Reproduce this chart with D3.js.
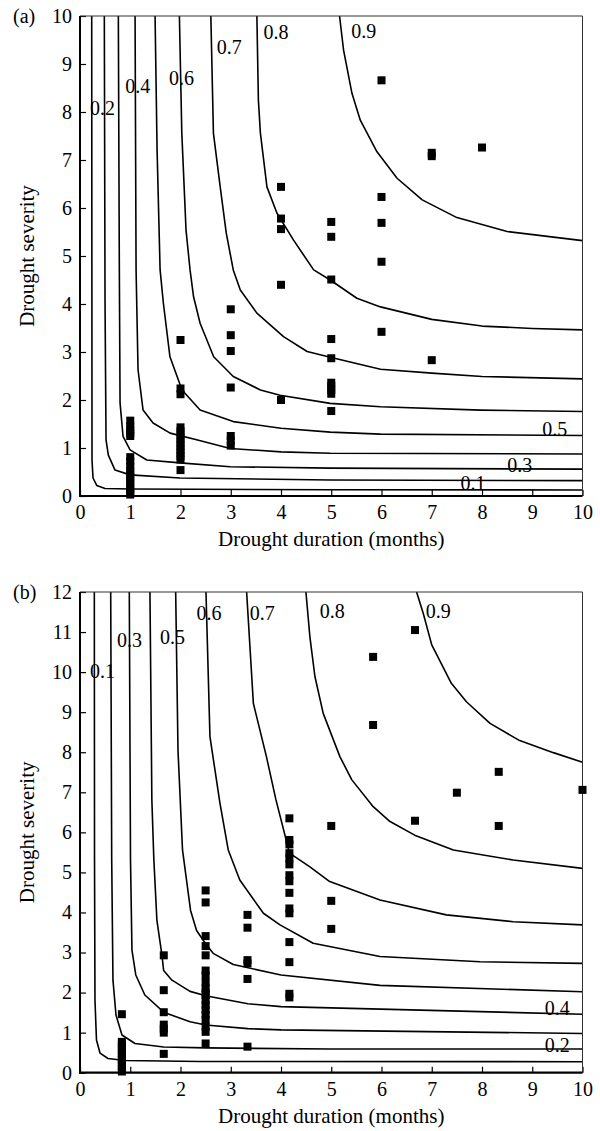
<!DOCTYPE html>
<html>
<head>
<meta charset="utf-8">
<script src="https://cdn.jsdelivr.net/npm/d3@7/dist/d3.min.js"></script>
<style>
body { margin: 0; background: #fff; }
text { font-family: "Liberation Serif", "Times New Roman", serif; fill: #000; }
</style>
</head>
<body>
<div id="chart"></div>
<script>
// ---- data ----
var durationTicks = [0, 1, 2, 3, 4, 5, 6, 7, 8, 9, 10];
var severityTicksA = [0, 1, 2, 3, 4, 5, 6, 7, 8, 9, 10];
var severityTicksB = [0, 1, 2, 3, 4, 5, 6, 7, 8, 9, 10, 11, 12];

var levels = ["0.1", "0.2", "0.3", "0.4", "0.5", "0.6", "0.7", "0.8", "0.9"];

// panel (a) contour lines, [duration, severity]
var contoursA = [
    [[0.233, 10], [0.239, 0.75], [0.259, 0.375], [0.333, 0.22], [0.498, 0.156], [0.996, 0.146], [4.98, 0.131], [10, 0.125]],
    [[0.484, 10], [0.498, 4.08], [0.518, 1.17], [0.564, 0.85], [0.697, 0.54], [0.996, 0.44], [1.99, 0.375], [4.98, 0.333], [10, 0.32]],
    [[0.763, 10], [0.783, 4.71], [0.797, 1.94], [0.857, 1.24], [0.996, 0.96], [1.329, 0.75], [1.992, 0.69], [2.99, 0.61], [4.98, 0.58], [10, 0.56]],
    [[1.096, 10], [1.116, 4.71], [1.155, 2.63], [1.255, 1.79], [1.454, 1.52], [1.793, 1.31], [2.32, 1.17], [2.99, 0.99], [4.0, 0.92], [4.98, 0.89], [10, 0.875]],
    [[1.494, 10], [1.534, 7.21], [1.594, 4.71], [1.66, 4.01], [1.79, 2.90], [2.03, 2.21], [2.39, 1.79], [3.05, 1.55], [4.0, 1.41], [4.98, 1.33], [5.98, 1.29], [10, 1.26]],
    [[1.978, 10], [2.026, 7.56], [2.11, 5.54], [2.19, 4.71], [2.26, 4.15], [2.39, 3.60], [2.66, 2.90], [3.05, 2.49], [3.59, 2.21], [3.98, 2.10], [4.98, 1.93], [5.98, 1.86], [7.97, 1.79], [10, 1.76]],
    [[2.604, 10], [2.655, 7.56], [2.79, 6.44], [2.91, 5.48], [3.05, 4.71], [3.19, 4.29], [3.52, 3.81], [4.05, 3.32], [4.52, 3.01], [4.98, 2.89], [5.98, 2.64], [7.0, 2.56], [8.0, 2.49], [10, 2.44]],
    [[3.52, 10], [3.55, 8.25], [3.59, 7.56], [3.72, 6.44], [3.92, 5.89], [4.25, 5.33], [4.65, 4.71], [4.98, 4.5], [5.51, 4.12], [5.98, 3.94], [7.0, 3.68], [8.0, 3.54], [9.0, 3.49], [10, 3.46]],
    [[5.165, 10], [5.245, 9.29], [5.412, 8.39], [5.578, 7.83], [5.91, 7.17], [6.31, 6.62], [6.81, 6.17], [7.50, 5.80], [8.50, 5.51], [10, 5.32]]
];

// panel (b) contour lines
var contoursB = [
    [[0.285, 12], [0.289, 5.31], [0.298, 1.81], [0.328, 0.815], [0.398, 0.49], [0.557, 0.354], [0.895, 0.305], [2.39, 0.28], [10, 0.275]],
    [[0.611, 12], [0.631, 5.31], [0.656, 2.31], [0.716, 1.44], [0.835, 0.94], [1.094, 0.73], [1.665, 0.64], [2.5, 0.62], [4.97, 0.59], [10, 0.59]],
    [[0.981, 12], [1.005, 5.31], [1.034, 3.06], [1.11, 2.44], [1.29, 1.94], [1.665, 1.51], [2.19, 1.27], [2.5, 1.19], [3.34, 1.10], [4.0, 1.07], [10, 0.98]],
    [[1.392, 12], [1.43, 6.81], [1.47, 5.31], [1.53, 3.81], [1.63, 2.94], [1.665, 2.55], [1.83, 2.31], [2.19, 2.03], [2.5, 1.92], [3.34, 1.72], [4.0, 1.65], [10, 1.46]],
    [[1.904, 12], [1.95, 8.05], [2.04, 5.56], [2.12, 4.81], [2.2, 4.05], [2.32, 3.55], [2.5, 3.22], [2.65, 2.98], [3.05, 2.70], [4.0, 2.44], [5.97, 2.18], [10, 2.02]],
    [[2.507, 12], [2.586, 8.39], [2.785, 6.73], [2.95, 5.56], [3.18, 4.81], [3.65, 3.98], [3.98, 3.69], [4.64, 3.23], [5.97, 2.90], [7.96, 2.77], [10, 2.73]],
    [[3.316, 12], [3.45, 9.22], [3.71, 7.89], [3.90, 6.81], [4.17, 5.48], [4.575, 5.14], [4.97, 4.77], [5.97, 4.31], [7.29, 3.94], [8.62, 3.77], [10, 3.69]],
    [[4.496, 12], [4.575, 10.88], [4.675, 9.89], [4.84, 8.97], [5.172, 7.89], [5.41, 7.31], [5.835, 6.64], [6.17, 6.27], [6.66, 5.93], [7.43, 5.56], [8.62, 5.31], [10, 5.10]],
    [[6.698, 12], [6.83, 11.47], [7.0, 10.68], [7.39, 9.72], [7.69, 9.26], [8.16, 8.72], [8.75, 8.29], [9.42, 7.99], [10, 7.75]]
];

// observed droughts, [duration, severity]
var observedA = [
    [1, 1.57], [1, 1.45], [1, 1.38], [1, 1.30], [1, 1.25],
    [1, 0.81], [1, 0.72], [1, 0.62], [1, 0.52], [1, 0.45], [1, 0.38], [1, 0.30], [1, 0.22], [1, 0.15], [1, 0.08], [1, 0.03],
    [2, 3.25], [2, 2.24], [2, 2.12], [2, 1.43], [2, 1.35], [2, 1.28], [2, 1.2], [2, 1.12], [2, 1.05], [2, 0.97], [2, 0.9], [2, 0.83], [2, 0.76], [2, 0.54],
    [3, 3.89], [3, 3.35], [3, 3.02], [3, 2.26], [3, 1.25], [3, 1.15], [3, 1.05],
    [4, 6.44], [4, 5.78], [4, 5.56], [4, 4.40], [4, 2.0],
    [5, 5.71], [5, 5.40], [5, 4.51], [5, 3.27], [5, 2.87], [5, 2.36], [5, 2.29], [5, 2.21], [5, 2.13], [5, 1.77],
    [6, 8.66], [6, 6.23], [6, 5.69], [6, 4.88], [6, 3.42],
    [7, 7.15], [7, 7.08], [7, 2.83],
    [8, 7.26]
];

var observedB = [
    [0.833, 1.46], [0.833, 0.77], [0.833, 0.7], [0.833, 0.62], [0.833, 0.55], [0.833, 0.47], [0.833, 0.4], [0.833, 0.32], [0.833, 0.25], [0.833, 0.18], [0.833, 0.1], [0.833, 0.03],
    [1.667, 2.93], [1.667, 2.06], [1.667, 1.51], [1.667, 1.2], [1.667, 1.1], [1.667, 1.0], [1.667, 0.47],
    [2.5, 4.55], [2.5, 4.25], [2.5, 3.41], [2.5, 3.16], [2.5, 2.93], [2.5, 2.55], [2.5, 2.43], [2.5, 2.25], [2.5, 2.11], [2.5, 2.0], [2.5, 1.94], [2.5, 1.8], [2.5, 1.69], [2.5, 1.57], [2.5, 1.45], [2.5, 1.32], [2.5, 1.15], [2.5, 1.02], [2.5, 0.73],
    [3.333, 3.94], [3.333, 3.62], [3.333, 2.81], [3.333, 2.73], [3.333, 2.34], [3.333, 0.65],
    [4.167, 6.35], [4.167, 5.81], [4.167, 5.70], [4.167, 5.48], [4.167, 5.35], [4.167, 5.2], [4.167, 4.93], [4.167, 4.78], [4.167, 4.49], [4.167, 4.1], [4.167, 3.98], [4.167, 3.26], [4.167, 2.76], [4.167, 1.97], [4.167, 1.88],
    [5, 6.16], [5, 4.29], [5, 3.59],
    [5.833, 10.38], [5.833, 8.68],
    [6.667, 11.05], [6.667, 6.29],
    [7.5, 6.99],
    [8.333, 7.51], [8.333, 6.16],
    [10, 7.06]
];

// where each contour label sits, [level, duration, severity]
var labelsA = [["0.2", 0.2, 7.94], ["0.4", 0.9, 8.4], ["0.6", 1.77, 8.56], ["0.7", 2.72, 9.2], ["0.8", 3.65, 9.53], ["0.9", 5.4, 9.55],
    ["0.5", 9.2, 1.25], ["0.3", 8.5, 0.506], ["0.1", 7.57, 0.125]];
var labelsB = [["0.1", 0.2, 9.85], ["0.3", 0.736, 10.63], ["0.5", 1.59, 10.7], ["0.6", 2.32, 11.3], ["0.7", 3.38, 11.3], ["0.8", 4.77, 11.35], ["0.9", 6.88, 11.35],
    ["0.4", 9.25, 1.44], ["0.2", 9.25, 0.52]];

// ---- drawing ----
var W = 600, H = 1131;
var svg = d3.select("#chart").append("svg")
    .attr("width", W)
    .attr("height", H);
svg.append("rect").attr("width", W).attr("height", H).attr("fill", "#fff");

function drawPanel(p) {
    var x = d3.scaleLinear().domain([0, 10]).range([80, 582.5]);
    var y = d3.scaleLinear().domain([0, p.ymax]).range([p.bottom, p.top]);
    var g = svg.append("g");

    var line = d3.line()
        .x(function(d){ return x(d[0]); })
        .y(function(d){ return y(d[1]); });

    g.selectAll(".contour")
        .data(p.contours)
        .enter()
        .append("path")
        .classed("contour", true)
        .attr("d", line)
        .attr("fill", "none")
        .attr("stroke", "#000")
        .attr("stroke-width", 1.6)
        .attr("stroke-linejoin", "round");

    var xAxis = d3.axisBottom(x)
        .tickValues(durationTicks)
        .tickFormat(d3.format("d"))
        .tickSizeInner(-6)
        .tickSizeOuter(0)
        .tickPadding(9);
    var yAxis = d3.axisLeft(y)
        .tickValues(p.yticks)
        .tickFormat(d3.format("d"))
        .tickSizeInner(-6)
        .tickSizeOuter(0)
        .tickPadding(8);

    var gx = g.append("g")
        .attr("transform", "translate(0," + p.bottom + ")")
        .call(xAxis);
    var gy = g.append("g")
        .attr("transform", "translate(80,0)")
        .call(yAxis);
    [gx, gy].forEach(function(a){
        a.select(".domain").remove();
        a.selectAll("line").attr("stroke", "#000").attr("stroke-width", 1.2);
        a.selectAll("text")
            .style("font-family", "'Liberation Serif', 'Times New Roman', serif")
            .style("font-size", "20px")
            .attr("fill", "#000");
    });

    // frame: top and right thin, left and bottom heavy
    g.append("line").attr("x1", x(0)).attr("x2", x(10)).attr("y1", p.top).attr("y2", p.top)
        .attr("stroke", "#333").attr("stroke-width", 1);
    g.append("line").attr("x1", x(10)).attr("x2", x(10)).attr("y1", p.top).attr("y2", p.bottom)
        .attr("stroke", "#333").attr("stroke-width", 1);
    g.append("line").attr("x1", x(0)).attr("x2", x(0)).attr("y1", p.top).attr("y2", p.bottom + 1)
        .attr("stroke", "#000").attr("stroke-width", 2);
    g.append("line").attr("x1", x(0) - 1).attr("x2", x(10)).attr("y1", p.bottom).attr("y2", p.bottom)
        .attr("stroke", "#000").attr("stroke-width", 2.2);

    g.selectAll(".obs")
        .data(p.observed)
        .enter()
        .append("rect")
        .classed("obs", true)
        .attr("x", function(d){ return x(d[0]) - 4; })
        .attr("y", function(d){ return y(d[1]) - 4; })
        .attr("width", 8)
        .attr("height", 8)
        .attr("fill", "#000");

    g.selectAll(".lab")
        .data(p.labels)
        .enter()
        .append("text")
        .classed("lab", true)
        .attr("x", function(d){ return x(d[1]); })
        .attr("y", function(d){ return y(d[2]); })
        .style("font-size", "20px")
        .text(function(d){ return d[0]; });

    // axis titles
    g.append("text")
        .attr("x", (x(0) + x(10)) / 2)
        .attr("y", p.bottom + 50)
        .attr("text-anchor", "middle")
        .style("font-size", "21px")
        .text("Drought duration (months)");
    g.append("text")
        .attr("transform", "translate(34," + (p.top + p.bottom) / 2 + ") rotate(-90)")
        .attr("text-anchor", "middle")
        .style("font-size", "21px")
        .text("Drought severity");

    g.append("text")
        .attr("x", 13)
        .attr("y", p.top + 7)
        .style("font-size", "20px")
        .text(p.tag);
}

drawPanel({ tag: "(a)", top: 16, bottom: 496, ymax: 10, yticks: severityTicksA,
    contours: contoursA, observed: observedA, labels: labelsA });
drawPanel({ tag: "(b)", top: 592, bottom: 1072.7, ymax: 12, yticks: severityTicksB,
    contours: contoursB, observed: observedB, labels: labelsB });
</script>
</body>
</html>
